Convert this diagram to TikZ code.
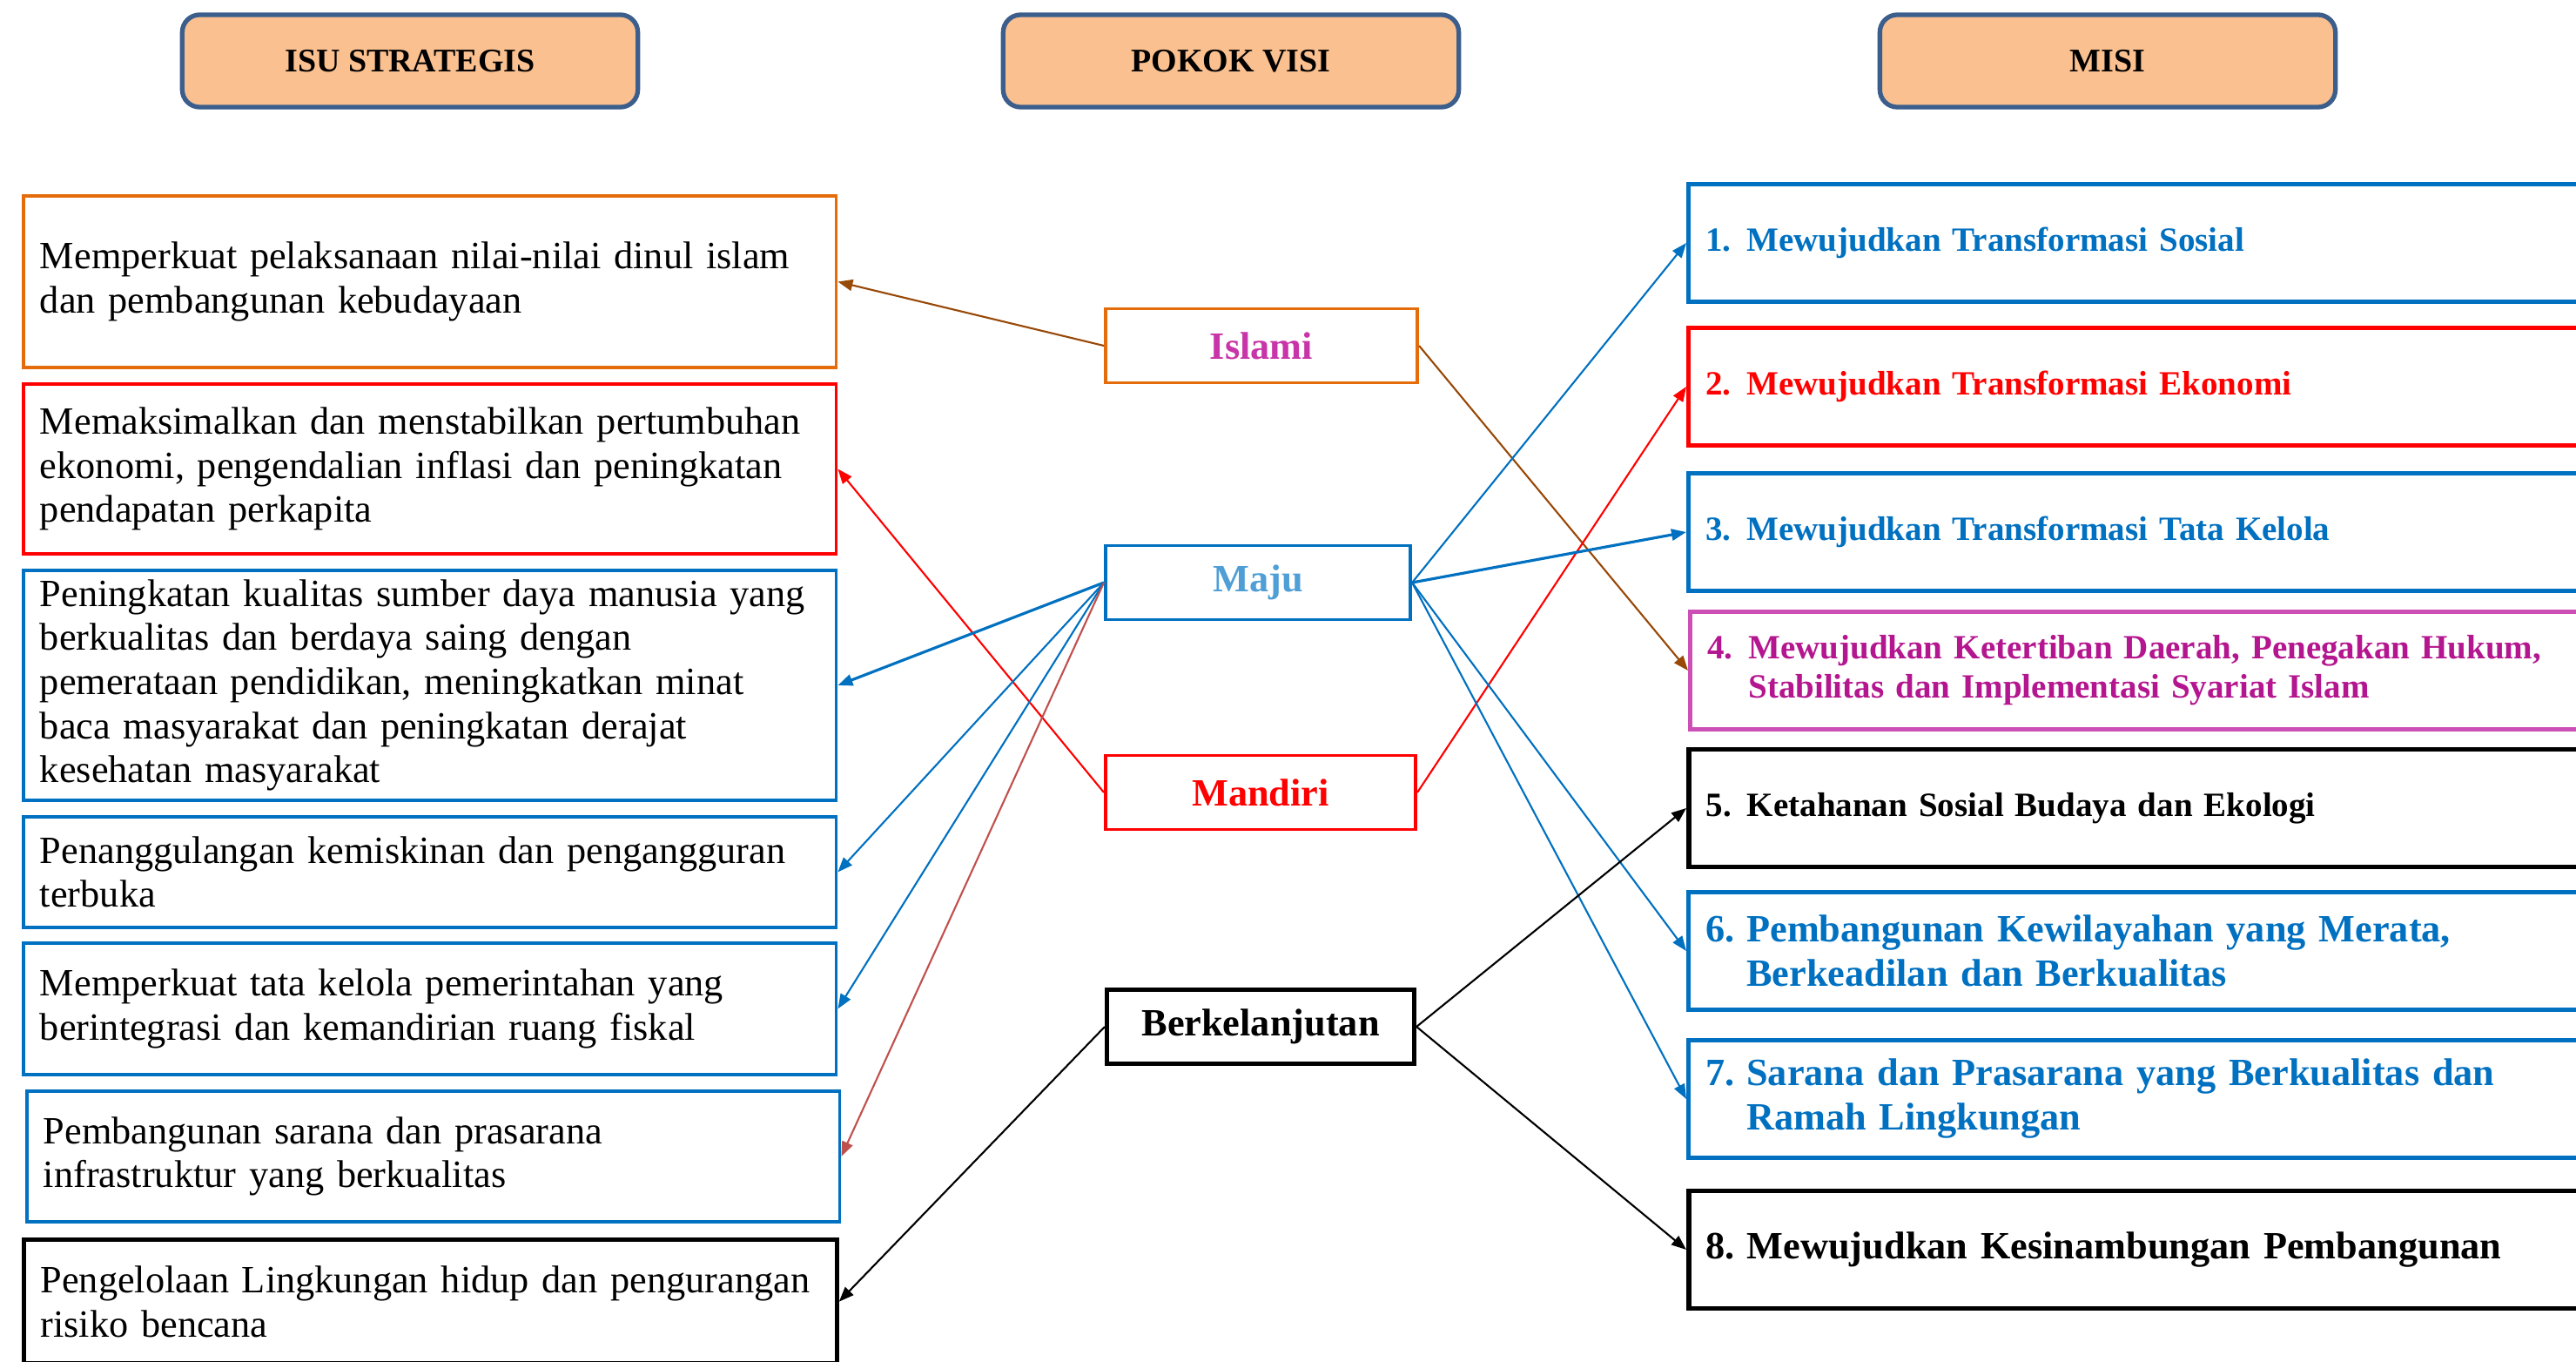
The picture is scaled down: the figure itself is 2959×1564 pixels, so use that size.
\documentclass[tikz,border=0pt]{standalone}
\usepackage{fontspec}
\setmainfont{Liberation Serif}
\usepackage{tikz}
\usetikzlibrary{arrows.meta}
\usepackage{xcolor}
\definecolor{judulfill}{RGB}{250,192,144}
\definecolor{judulline}{RGB}{59,94,140}
\definecolor{isuorange}{RGB}{228,108,10}
\definecolor{misiblue}{RGB}{0,112,192}
\definecolor{majublue}{RGB}{79,159,214}
\definecolor{islamipink}{RGB}{200,53,168}
\definecolor{misipink}{RGB}{180,22,143}
\definecolor{misipinkline}{RGB}{204,79,181}
\definecolor{arrowbrown}{RGB}{152,72,7}
\definecolor{softred}{RGB}{192,80,77}
\newcommand{\nomor}[1]{\makebox[0.47cm][l]{#1}}

\begin{document}
\begin{tikzpicture}[
    x=0.01cm, y=-0.01cm,
    judul/.style={rectangle, rounded corners=0.2cm, draw=judulline, fill=judulfill,
                  line width=1.5pt, minimum width=5.23cm, minimum height=1.06cm,
                  font=\fontsize{10.8}{13}\selectfont\bfseries},
    isu/.style={rectangle, draw, line width=1.1pt, text width=8.95cm, inner xsep=0.19cm,
                inner ysep=0.03cm, align=left, anchor=north west,
                font=\fontsize{12.6}{14.4}\selectfont},
    visi/.style={rectangle, draw, line width=1.1pt, minimum width=3.56cm, minimum height=0.85cm,
                 anchor=west, font=\fontsize{12.6}{14}\selectfont\bfseries},
    misi/.style={rectangle, draw, line width=1.3pt, text width=10.9cm, inner xsep=0.2cm,
                 minimum height=1.35cm, align=left, anchor=west,
                 font=\fontsize{11.1}{12.8}\selectfont\bfseries},
    misibesar/.style={misi, font=\fontsize{12.6}{14.5}\selectfont\bfseries},
    arr/.style={-{Triangle[length=0.17cm, width=0.13cm]}, line width=0.6pt},
]
    \useasboundingbox (0,0) rectangle (2959,1564);
    \clip (0,0) rectangle (2959,1564);

    % Headers
    \node[judul] (isuhead) at (471,70) {ISU STRATEGIS};
    \node[judul] (visihead) at (1414,70) {POKOK VISI};
    \node[judul] (misihead) at (2421,70) {MISI};

    % Isu strategis
    \node[isu, draw=isuorange, minimum height=1.97cm] (isu1) at (25,223)
        {Memperkuat pelaksanaan nilai-nilai dinul islam\\dan pembangunan kebudayaan};
    \node[isu, draw=red, minimum height=1.95cm] (isu2) at (25,439)
        {Memaksimalkan dan menstabilkan pertumbuhan\\ekonomi, pengendalian inflasi dan peningkatan\\pendapatan perkapita};
    \node[isu, draw=misiblue, minimum height=2.64cm] (isu3) at (25,653)
        {Peningkatan kualitas sumber daya manusia yang\\berkualitas dan berdaya saing dengan\\pemerataan pendidikan, meningkatkan minat\\baca masyarakat dan peningkatan derajat\\kesehatan masyarakat};
    \node[isu, draw=misiblue, minimum height=1.27cm] (isu4) at (25,936)
        {Penanggulangan kemiskinan dan pengangguran\\terbuka};
    \node[isu, draw=misiblue, minimum height=1.51cm] (isu5) at (25,1081)
        {Memperkuat tata kelola pemerintahan yang\\berintegrasi dan kemandirian ruang fiskal};
    \node[isu, draw=misiblue, minimum height=1.50cm] (isu6) at (29,1251)
        {Pembangunan sarana dan prasarana\\infrastruktur yang berkualitas};
    \node[isu, draw=black, line width=1.5pt, minimum height=1.42cm] (isu7) at (25,1421)
        {Pengelolaan Lingkungan hidup dan pengurangan\\risiko bencana};

    % Pokok visi
    \node[visi, draw=isuorange, text=islamipink, minimum width=3.58cm] (islami) at (1268,397) {Islami};
    \node[visi, draw=misiblue, text=majublue, minimum width=3.50cm] (maju) at (1268,669) {Maju};
    \node[visi, draw=red, text=red] (mandiri) at (1268,910) {Mandiri};
    \node[visi, draw=black, line width=1.4pt, minimum width=3.53cm] (lanjut) at (1269,1179) {Berkelanjutan};

    % Misi
    \node[misi, draw=misiblue, text=misiblue] (misi1) at (1937,279)
        {\nomor{1.}Mewujudkan Transformasi Sosial};
    \node[misi, draw=red, text=red] (misi2) at (1937,444)
        {\nomor{2.}Mewujudkan Transformasi Ekonomi};
    \node[misi, draw=misiblue, text=misiblue] (misi3) at (1937,611)
        {\nomor{3.}Mewujudkan Transformasi Tata Kelola};
    \node[misi, draw=misipinkline, text=misipink] (misi4) at (1939,770)
        {\nomor{4.}Mewujudkan Ketertiban Daerah, Penegakan Hukum,\\\hspace*{0.47cm}Stabilitas dan Implementasi Syariat Islam};
    \node[misi, draw=black, line width=1.6pt] (misi5) at (1937,928)
        {\nomor{5.}Ketahanan Sosial Budaya dan Ekologi};
    \node[misibesar, draw=misiblue, text=misiblue] (misi6) at (1937,1092)
        {\nomor{6.}Pembangunan Kewilayahan yang Merata,\\\hspace*{0.47cm}Berkeadilan dan Berkualitas};
    \node[misibesar, draw=misiblue, text=misiblue] (misi7) at (1937,1262)
        {\nomor{7.}Sarana dan Prasarana yang Berkualitas dan\\\hspace*{0.47cm}Ramah Lingkungan};
    \node[misibesar, draw=black, line width=1.6pt] (misi8) at (1937,1435)
        {\nomor{8.}Mewujudkan Kesinambungan Pembangunan};

    % Connections
    \draw[arr, arrowbrown] (islami.west) -- (isu1.east);
    \draw[arr, arrowbrown] (islami.east) -- (misi4.west);
    \draw[arr, red] (mandiri.west) -- (isu2.east);
    \draw[arr, red] (mandiri.east) -- (misi2.west);
    \draw[arr, misiblue, line width=0.9pt] (maju.west) -- (isu3.east);
    \draw[arr, misiblue] (maju.west) -- (isu4.east);
    \draw[arr, misiblue] (maju.west) -- (isu5.east);
    \draw[arr, softred] (maju.west) -- (isu6.east);
    \draw[arr, misiblue] (maju.east) -- (misi1.west);
    \draw[arr, misiblue, line width=0.9pt] (maju.east) -- (misi3.west);
    \draw[arr, misiblue] (maju.east) -- (misi6.west);
    \draw[arr, misiblue] (maju.east) -- (misi7.west);
    \draw[arr] (lanjut.west) -- (isu7.east);
    \draw[arr] (lanjut.east) -- (misi5.west);
    \draw[arr] (lanjut.east) -- (misi8.west);
\end{tikzpicture}
\end{document}
